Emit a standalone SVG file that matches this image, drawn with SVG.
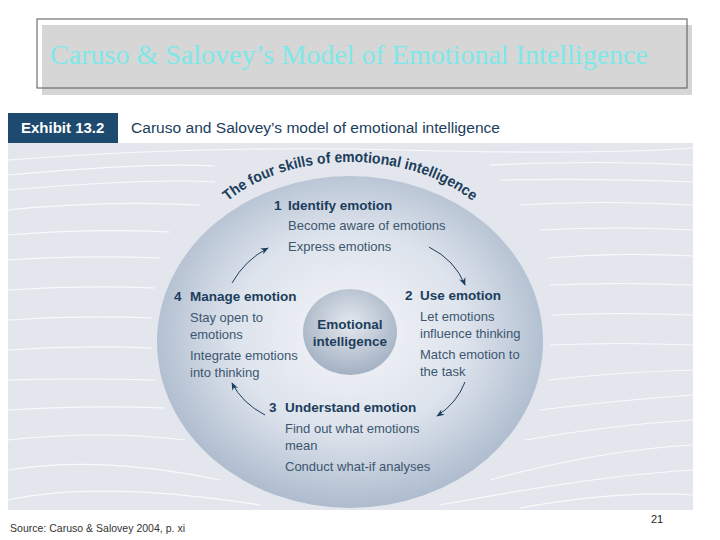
<svg xmlns="http://www.w3.org/2000/svg" width="720" height="540" viewBox="0 0 720 540">
<defs>
<style>
.t{font-family:"Liberation Sans",Arial,sans-serif;}
.h{font-weight:bold;font-size:13.5px;fill:#1c3d5c;}
.b{font-size:13px;fill:#3d5670;}
.arr{fill:none;stroke:#1c3d5c;stroke-width:1;}
.st{fill:none;stroke:#ffffff;stroke-width:1.2;opacity:0.75;}
</style>
<radialGradient id="big" cx="0.5" cy="0.47" r="0.55">
<stop offset="0" stop-color="#f4f6f9"/>
<stop offset="0.55" stop-color="#dde3ec"/>
<stop offset="1" stop-color="#a9b8cb"/>
</radialGradient>
<radialGradient id="small" cx="0.5" cy="0.4" r="0.6">
<stop offset="0" stop-color="#e4e8ee"/>
<stop offset="1" stop-color="#a3b1c3"/>
</radialGradient>
<marker id="ah" viewBox="0 0 10 10" refX="9" refY="5" markerWidth="8" markerHeight="8" orient="auto" markerUnits="userSpaceOnUse">
<path d="M0,1 L10,5 L0,9 L3,5 Z" fill="#1c3d5c"/>
</marker>
<path id="arcp" d="M 190,272 A 160,110 0 0,1 510,272"/>
</defs>
<rect width="720" height="540" fill="#ffffff"/>
<g id="title">
<rect x="42" y="25" width="650" height="70" fill="#d6d6d6"/>
<rect x="37" y="19" width="650" height="69" fill="none" stroke="#555555" stroke-width="1"/>
<text x="50" y="64" font-family="Liberation Serif,serif" font-size="27" fill="#7ee8e8" textLength="598" lengthAdjust="spacingAndGlyphs">Caruso &amp; Salovey’s Model of Emotional Intelligence</text>
</g>
<g id="exhibit">
<rect x="8" y="113" width="110" height="30" fill="#1d4a6e"/>
<text class="t" x="21" y="133" font-size="15" font-weight="bold" fill="#ffffff">Exhibit 13.2</text>
<text class="t" x="131" y="133" font-size="15.5" fill="#1c3d5c" textLength="369" lengthAdjust="spacingAndGlyphs">Caruso and Salovey’s model of emotional intelligence</text>
</g>
<g id="background">
<rect x="8" y="143" width="685" height="367" fill="#e3e7ed"/>
<path class="st" d="M8,160 Q200,145 400,150 T693,148"/>
<path class="st" d="M8,175 Q150,162 215,166"/>
<path class="st" d="M490,165 Q600,160 693,165"/>
<path class="st" d="M8,190 Q150,178 215,182"/>
<path class="st" d="M500,180 Q600,178 693,182"/>
<path class="st" d="M8,210 Q100,200 200,205"/>
<path class="st" d="M520,205 Q600,200 693,205"/>
<path class="st" d="M8,235 Q90,228 170,232"/>
<path class="st" d="M540,230 Q620,226 693,230"/>
<path class="st" d="M8,260 Q80,255 160,258"/>
<path class="st" d="M548,258 Q620,252 693,256"/>
<path class="st" d="M8,290 Q80,285 155,288"/>
<path class="st" d="M550,285 Q620,282 693,285"/>
<path class="st" d="M8,320 Q80,315 152,318"/>
<path class="st" d="M552,315 Q620,312 693,315"/>
<path class="st" d="M8,350 Q80,345 152,348"/>
<path class="st" d="M550,345 Q620,342 693,345"/>
<path class="st" d="M8,380 Q80,378 155,380"/>
<path class="st" d="M548,380 Q620,372 693,370"/>
<path class="st" d="M8,410 Q90,405 165,408"/>
<path class="st" d="M540,410 Q620,400 693,395"/>
<path class="st" d="M8,440 Q100,430 185,440"/>
<path class="st" d="M525,440 Q610,425 693,420"/>
<path class="st" d="M8,470 Q100,455 220,480"/>
<path class="st" d="M490,480 Q600,450 693,445"/>
<path class="st" d="M8,500 Q100,480 260,505"/>
<path class="st" d="M440,505 Q600,475 693,470"/>
<path class="st" d="M520,508 Q620,490 693,495"/>
</g>
<g id="outer-ellipse">
<ellipse cx="350" cy="342" rx="193" ry="166" fill="url(#big)"/>
</g>
<g id="arc-title">
<text class="t" font-size="15" font-weight="bold" fill="#1c3d5c" text-anchor="middle"><textPath href="#arcp" startOffset="50%" textLength="262" lengthAdjust="spacingAndGlyphs">The four skills of emotional intelligence</textPath></text>
</g>
<g id="center">
<ellipse cx="350" cy="332" rx="47" ry="43" fill="url(#small)"/>
<text class="t h" x="350" y="329" text-anchor="middle">Emotional</text>
<text class="t h" x="350" y="346" text-anchor="middle">intelligence</text>
</g>
<g id="skill1">
<text class="t h" x="274" y="210">1</text>
<text class="t h" x="288" y="210">Identify emotion</text>
<text class="t b" x="288" y="230">Become aware of emotions</text>
<text class="t b" x="288" y="251">Express emotions</text>
</g>
<g id="skill2">
<text class="t h" x="405" y="300">2</text>
<text class="t h" x="420" y="300">Use emotion</text>
<text class="t b" x="420" y="321">Let emotions</text>
<text class="t b" x="420" y="338">influence thinking</text>
<text class="t b" x="420" y="359">Match emotion to</text>
<text class="t b" x="420" y="376">the task</text>
</g>
<g id="skill3">
<text class="t h" x="269" y="412">3</text>
<text class="t h" x="285" y="412">Understand emotion</text>
<text class="t b" x="285" y="433">Find out what emotions</text>
<text class="t b" x="285" y="450">mean</text>
<text class="t b" x="285" y="471">Conduct what-if analyses</text>
</g>
<g id="skill4">
<text class="t h" x="174" y="301">4</text>
<text class="t h" x="190" y="301">Manage emotion</text>
<text class="t b" x="190" y="322">Stay open to</text>
<text class="t b" x="190" y="339">emotions</text>
<text class="t b" x="190" y="360">Integrate emotions</text>
<text class="t b" x="190" y="377">into thinking</text>
</g>
<g id="connectors">
<path class="arr" d="M232,283 Q245,260 268,248" marker-end="url(#ah)"/>
<path class="arr" d="M429,247 Q455,260 465,285" marker-end="url(#ah)"/>
<path class="arr" d="M465,382 Q457,403 437,416" marker-end="url(#ah)"/>
<path class="arr" d="M265,415 Q242,403 232,383" marker-end="url(#ah)"/>
</g>
<g id="footer">
<text class="t" x="10" y="532" font-size="11" fill="#333333" textLength="175" lengthAdjust="spacingAndGlyphs">Source: Caruso &amp; Salovey 2004, p. xi</text>
<text class="t" x="651" y="523" font-size="11" fill="#222222">21</text>
</g>
</svg>
